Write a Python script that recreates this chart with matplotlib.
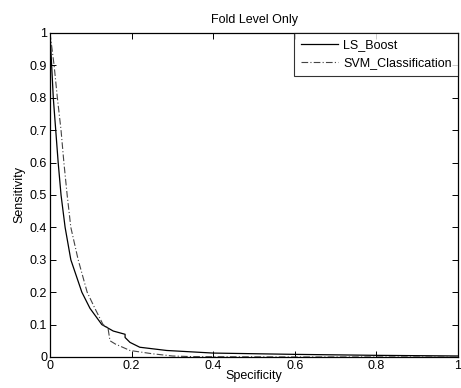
import matplotlib.pyplot as plt
import numpy as np

# ROC-like curves
ls_x = [0.0, 0.004, 0.008, 0.014, 0.020, 0.027, 0.037, 0.051, 0.078, 0.098, 0.127,
        0.155, 0.184, 0.184, 0.196, 0.220, 0.286, 0.40, 0.60, 0.80, 1.0]
ls_y = [1.0, 0.90, 0.80, 0.70, 0.60, 0.50, 0.40, 0.30, 0.20, 0.15, 0.10,
        0.08, 0.07, 0.06, 0.045, 0.03, 0.02, 0.012, 0.008, 0.005, 0.003]

svm_x = [0.0, 0.010, 0.018, 0.027, 0.034, 0.042, 0.051, 0.069, 0.091, 0.110, 0.130,
         0.142, 0.147, 0.160, 0.196, 0.250, 0.300, 0.350, 0.60, 1.0]
svm_y = [1.0, 0.90, 0.80, 0.70, 0.60, 0.50, 0.40, 0.30, 0.20, 0.15, 0.10,
         0.09, 0.05, 0.04, 0.02, 0.01, 0.003, 0.001, 0.0, 0.0]

plt.rcParams['font.family'] = ['Liberation Sans', 'DejaVu Sans']
fig = plt.figure(figsize=(4.61, 3.88), dpi=100)
ax = fig.add_axes([0.1085, 0.08, 0.885, 0.835])

ax.plot(ls_x, ls_y, color='black', linewidth=0.9, label='LS_Boost')
ax.plot(svm_x, svm_y, color='#444444', linewidth=0.8, linestyle=(0, (6, 2, 1, 2)),
        label='SVM_Classification')

ax.set_xlim(0, 1)
ax.set_ylim(0, 1)
ax.set_xticks(np.arange(0, 1.01, 0.2))
ax.set_xticklabels(['0', '0.2', '0.4', '0.6', '0.8', '1'])
ax.set_yticks(np.arange(0, 1.01, 0.1))
ax.set_yticklabels(['0', '0.1', '0.2', '0.3', '0.4', '0.5', '0.6', '0.7', '0.8', '0.9', '1'])
ax.tick_params(direction='in', top=True, right=True, labelsize=9, length=4, width=0.7, pad=2)
for s in ax.spines.values():
    s.set_linewidth(0.9)

ax.set_title('Fold Level Only', fontsize=9, pad=7)
ax.set_xlabel('Specificity', fontsize=9, labelpad=-1)
ax.set_ylabel('Sensitivity', fontsize=9, labelpad=3)

leg = ax.legend(loc='upper right', fontsize=9, frameon=True, fancybox=False,
                borderaxespad=0, handlelength=3.0, handletextpad=0.4,
                borderpad=0.5, labelspacing=0.5)
leg.get_frame().set_edgecolor('black')
leg.get_frame().set_linewidth(0.8)

fig.savefig('out.png', dpi=100)
